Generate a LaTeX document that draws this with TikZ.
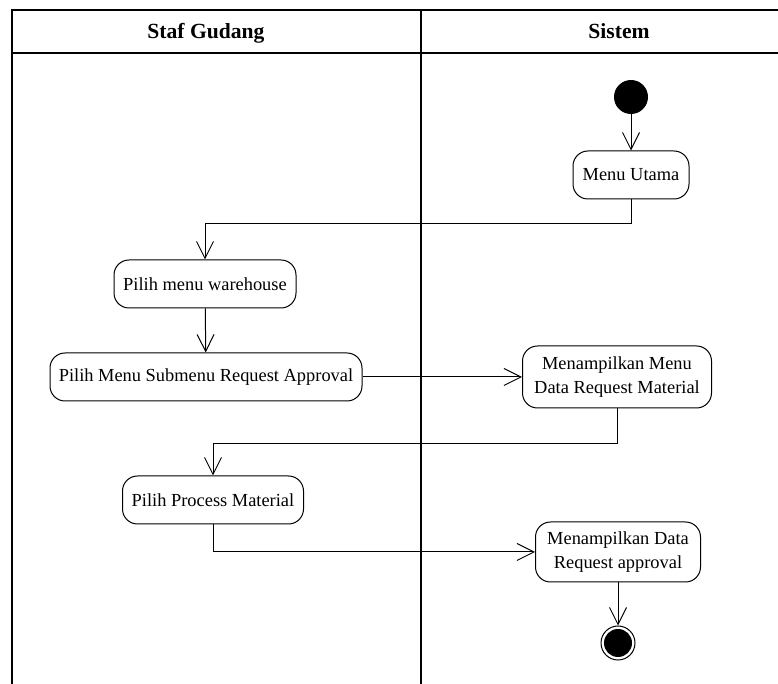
\documentclass[tikz,border=0pt]{standalone}
\usepackage{fontspec}
\setmainfont{Liberation Serif}
\usetikzlibrary{arrows.meta,positioning,calc}

\begin{document}
\begin{tikzpicture}[x=0.5pt,y=-0.5pt,font=\fontsize{9.2}{12}\selectfont,
        >={Straight Barb[length=8.5pt,width=8.5pt]},
        act/.style={draw,line width=0.5pt,rounded corners=7.5pt,fill=white,
                    minimum height=24pt,align=center,inner xsep=3pt},
        start/.style={circle,fill=black,minimum size=17pt,inner sep=0pt},
        fin/.style={circle,draw,line width=0.5pt,minimum size=17pt,inner sep=0pt,
                    path picture={\fill (path picture bounding box.center) circle (7pt);}},
        hd/.style={font=\fontsize{10.8}{13}\selectfont\bfseries,anchor=base},
        lane/.style={line width=0.6pt},
        ar/.style={->,line width=0.5pt}]
        \useasboundingbox (0,0) rectangle (778,684);
        % swimlanes
        \draw[lane] (12,684) -- (12,10) -- (778,10);
        \draw[lane] (12,53) -- (778,53);
        \draw[lane] (421,10) -- (421,684);
        \node[hd] (h1) at (206,39) {Staf Gudang};
        \node[hd] (h2) at (619,39) {Sistem};
        % activities
        \node[start] (st) at (631,97) {};
        \node[act,minimum width=58pt] (mu) at (631,175) {Menu Utama};
        \node[act,minimum width=91pt] (pw) at (205,284) {Pilih menu warehouse};
        \node[act,minimum width=156pt] (ps) at (206,377) {Pilih Menu Submenu Request Approval};
        \node[act,minimum width=94.5pt,minimum height=31pt] (rq) at (617,377) {Menampilkan Menu\\Data Request Material};
        \node[act,minimum width=90.5pt] (pp) at (213,500) {Pilih Process Material};
        \node[act,minimum width=82.5pt,minimum height=30pt] (md) at (618,552) {Menampilkan Data\\Request approval};
        \node[fin] (en) at (618,643) {};
        % flows
        \draw[ar] (st) -- (mu);
        \draw[ar] (mu.south) -- ++(0,24) -| (pw.north);
        \draw[ar] (pw) -- (ps);
        \draw[ar] (ps) -- (rq);
        \draw[ar] (rq.south) -- ++(0,35) -| (pp.north);
        \draw[ar] (pp.south) |- (md.west);
        \draw[ar] (md) -- (en);
\end{tikzpicture}
\end{document}
